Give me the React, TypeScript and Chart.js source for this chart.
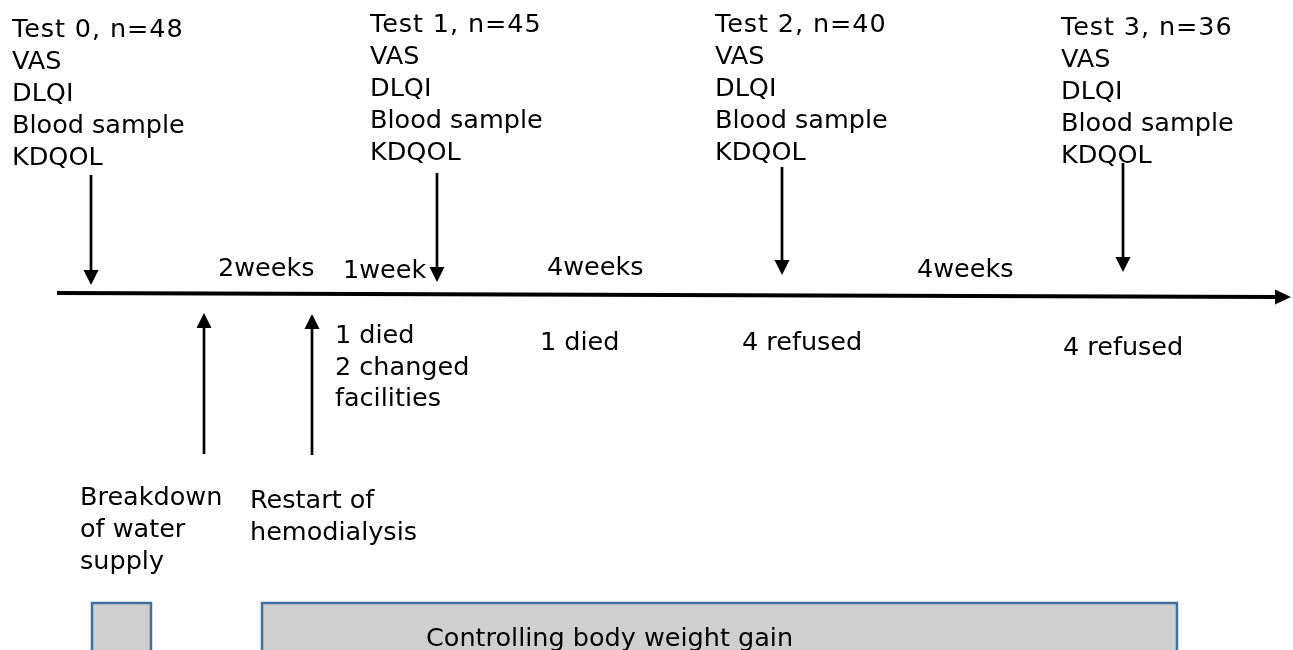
import { useEffect, useRef } from "react";
import { Chart, registerables } from "chart.js";

Chart.register(...registerables);

// ---- content ----
const testTitles = ["Test 0, n=48", "Test 1, n=45", "Test 2, n=40", "Test 3, n=36"];
const measures = ["VAS", "DLQI", "Blood sample", "KDQOL"];
const intervalLabels = ["2weeks", "1week", "4weeks", "4weeks"];
const eventLabels = [["Breakdown", "of water", "supply"], ["Restart of", "hemodialysis"]];
const dropoutLabels = [["1 died", "2 changed", "facilities"], ["1 died"], ["4 refused"], ["4 refused"]];
const periodLabels = ["", "Controlling body weight gain"];

// ---- layout (diagram coordinates on the chart's x/y scales) ----
const timelineX = [57, 1291];
const timelineY = [293, 297];
const testArrowX = [91, 437, 782, 1123];
const testArrowTop = [175, 173, 167, 163];
const testArrowTip = [285, 282, 275, 272];
const testTextX = [12, 370, 715, 1061];
const testTextBase = [37, 32, 32, 35];
const intervalX = [218, 343, 547, 917];
const intervalBase = [276, 278, 275, 277];
const eventArrowX = [204, 312];
const eventArrowTip = [313, 314];
const eventArrowBottom = [454, 455];
const eventTextX = [80, 250];
const eventTextBase = [505, 508];
const dropoutX = [335, 540, 742, 1063];
const dropoutBase = [343, 350, 350, 355];
const periodX0 = [92, 262];
const periodX1 = [151, 1177];
const periodTop = 603;
const periodBottom = 660;
const periodLabelX = 426;
const periodLabelBase = 646;

const FONT = '25.5px "DejaVu Sans", Verdana, sans-serif';
const LINE = 32;

export default function App() {
  const ref = useRef<HTMLCanvasElement | null>(null);

  useEffect(() => {
    document.body.style.margin = "0";
    const canvas = ref.current;
    if (!canvas) return;

    const datasets: any[] = [];
    // timeline
    datasets.push({
      type: "line",
      data: [
        { x: timelineX[0], y: timelineY[0] },
        { x: timelineX[1] - 14, y: timelineY[1] },
      ],
      borderColor: "#000",
      borderWidth: 4,
      pointRadius: 0,
    });
    // test arrows (shafts)
    testArrowX.forEach((x, i) => {
      datasets.push({
        type: "line",
        data: [
          { x, y: testArrowTop[i] },
          { x, y: testArrowTip[i] - 12 },
        ],
        borderColor: "#000",
        borderWidth: 2.7,
        pointRadius: 0,
      });
    });
    // event arrows (shafts)
    eventArrowX.forEach((x, i) => {
      datasets.push({
        type: "line",
        data: [
          { x, y: eventArrowBottom[i] },
          { x, y: eventArrowTip[i] + 12 },
        ],
        borderColor: "#000",
        borderWidth: 2.7,
        pointRadius: 0,
      });
    });

    const overlay = {
      id: "overlay",
      beforeDatasetsDraw(chart: any) {
        const { ctx, scales } = chart;
        const X = (v: number) => scales.x.getPixelForValue(v);
        const Y = (v: number) => scales.y.getPixelForValue(v);
        ctx.save();
        periodX0.forEach((x0, i) => {
          const l = X(x0), r = X(periodX1[i]), t = Y(periodTop), b = Y(periodBottom);
          ctx.fillStyle = "#d0cfd0";
          ctx.fillRect(l, t, r - l, b - t);
          ctx.strokeStyle = "#41719c";
          ctx.lineWidth = 2.5;
          ctx.strokeRect(l, t, r - l, b - t);
          if (periodLabels[i]) {
            ctx.fillStyle = "#000";
            ctx.font = FONT;
            ctx.textAlign = "left";
            ctx.textBaseline = "alphabetic";
            ctx.fillText(periodLabels[i], X(periodLabelX), Y(periodLabelBase));
          }
        });
        ctx.restore();
      },
      afterDatasetsDraw(chart: any) {
        const { ctx, scales } = chart;
        const X = (v: number) => scales.x.getPixelForValue(v);
        const Y = (v: number) => scales.y.getPixelForValue(v);
        ctx.save();
        ctx.fillStyle = "#000";
        const tri = (x: number, tipY: number, dir: number, half: number, h: number) => {
          ctx.beginPath();
          ctx.moveTo(x, tipY);
          ctx.lineTo(x - half, tipY - dir * h);
          ctx.lineTo(x + half, tipY - dir * h);
          ctx.closePath();
          ctx.fill();
        };
        {
          const tx = X(timelineX[1]), ty = Y(timelineY[1]);
          ctx.beginPath();
          ctx.moveTo(tx, ty);
          ctx.lineTo(tx - 16, ty - 7.5);
          ctx.lineTo(tx - 16, ty + 7.5);
          ctx.closePath();
          ctx.fill();
        }
        testArrowX.forEach((x, i) => tri(X(x), Y(testArrowTip[i]), 1, 7.5, 15));
        eventArrowX.forEach((x, i) => tri(X(x), Y(eventArrowTip[i]), -1, 7.5, 15));

        ctx.font = FONT;
        ctx.textAlign = "left";
        ctx.textBaseline = "alphabetic";
        testTitles.forEach((t, i) => {
          (ctx as any).letterSpacing = "0.9px";
          ctx.fillText(t, X(testTextX[i]), Y(testTextBase[i]));
          (ctx as any).letterSpacing = "0px";
          measures.forEach((s, j) => ctx.fillText(s, X(testTextX[i]), Y(testTextBase[i] + (j + 1) * LINE)));
        });
        intervalLabels.forEach((s, i) => ctx.fillText(s, X(intervalX[i]), Y(intervalBase[i])));
        eventLabels.forEach((lines, i) =>
          lines.forEach((s, j) => ctx.fillText(s, X(eventTextX[i]), Y(eventTextBase[i] + j * LINE)))
        );
        dropoutLabels.forEach((lines, i) =>
          lines.forEach((s, j) => ctx.fillText(s, X(dropoutX[i]), Y(dropoutBase[i] + j * 31.5)))
        );
        ctx.restore();
      },
    };

    const chart = new Chart(canvas, {
      type: "scatter",
      data: { datasets },
      options: {
        animation: false,
        responsive: true,
        maintainAspectRatio: false,
        layout: { padding: 0 },
        plugins: { legend: { display: false }, tooltip: { enabled: false } },
        scales: {
          x: { type: "linear", min: 0, max: 1293, display: false },
          y: { type: "linear", min: 0, max: 650, reverse: true, display: false },
        },
        elements: { line: { tension: 0 } },
      },
      plugins: [overlay],
    } as any);
    return () => chart.destroy();
  }, []);

  return (
    <div style={{ position: "absolute", left: 0, top: 0, width: 1293, height: 650, background: "#fff" }}>
      <canvas ref={ref} />
    </div>
  );
}
